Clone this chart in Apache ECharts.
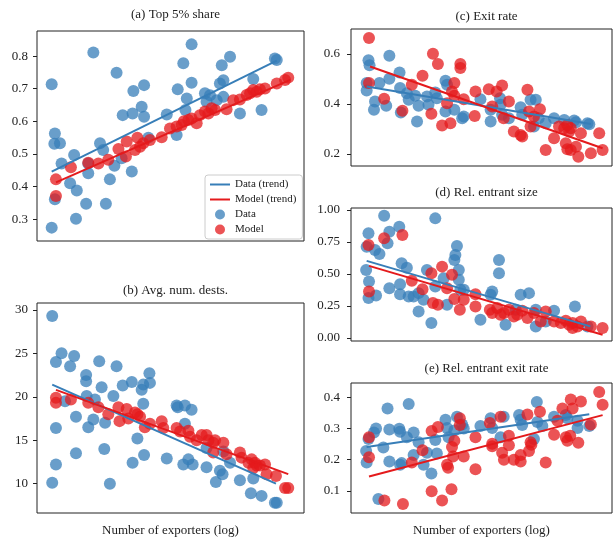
<!DOCTYPE html>
<html>
<head>
<meta charset="utf-8">
<script src="https://cdn.jsdelivr.net/npm/echarts@6/dist/echarts.min.js"></script>
<style>
  html, body { margin: 0; padding: 0; background: #fff; }
  #main { width: 616px; height: 538px; }
</style>
</head>
<body>
<div id="main"></div>
<script>
// x = position on the (log) number-of-exporters axis, 0..100 across each panel
// (a) Top 5% share
var aData = [[5.5,0.714],[6.7,0.563],[6.5,0.531],[8.6,0.533],[5.5,0.274],[6.7,0.361],[9.2,0.471],[21.1,0.811],[13.9,0.497],[12.4,0.41],[14.9,0.388],[14.6,0.301],[18.4,0.347],[19.2,0.441],[19.2,0.471],[23.6,0.533],[24.8,0.512],[25.8,0.347],[27.3,0.422],[29.0,0.464],[29.8,0.749],[31.7,0.487],[32.1,0.619],[35.5,0.446],[35.8,0.624],[36.1,0.693],[39.2,0.645],[40.1,0.711],[40.1,0.614],[41.7,0.55],[48.6,0.621],[52.3,0.558],[52.7,0.698],[54.8,0.778],[56.1,0.67],[55.6,0.635],[57.9,0.836],[57.9,0.718],[62.9,0.686],[63.5,0.66],[64.8,0.68],[68.5,0.716],[69.2,0.772],[69.8,0.726],[67.3,0.665],[69.8,0.675],[72.3,0.798],[76.0,0.624],[81.0,0.73],[84.1,0.635],[89.1,0.793],[89.8,0.788]];
var aModel = [[7.1,0.422],[7.1,0.371],[12.7,0.459],[19.2,0.473],[23.0,0.471],[26.7,0.482],[30.5,0.515],[33.6,0.538],[33.3,0.492],[36.7,0.512],[37.6,0.55],[38.6,0.522],[39.8,0.533],[42.3,0.543],[46.7,0.551],[49.8,0.578],[52.3,0.584],[54.2,0.589],[55.0,0.6],[56.7,0.604],[57.9,0.609],[59.8,0.594],[61.0,0.619],[62.9,0.63],[64.2,0.624],[65.4,0.64],[66.7,0.635],[71.0,0.637],[73.5,0.665],[76.0,0.667],[78.5,0.681],[79.8,0.686],[81.0,0.696],[82.3,0.691],[83.5,0.698],[85.4,0.701],[89.8,0.716],[92.9,0.727],[94.1,0.734]];
var aDataTrend = [[5.5,0.446],[89.8,0.786]];
var aModelTrend = [[7.1,0.413],[94.8,0.727]];
var aTicks = [0.3,0.4,0.5,0.6,0.7,0.8];

// (b) Avg. num. dests.
var bData = [[5.7,29.3],[5.7,10.1],[7.1,24.0],[7.1,12.2],[7.1,16.4],[9.2,25.0],[10.5,19.5],[12.4,23.5],[13.9,24.7],[14.6,17.7],[14.6,13.5],[18.4,22.5],[18.4,21.8],[18.6,20.1],[19.2,16.5],[21.7,19.7],[21.1,17.4],[23.3,24.1],[24.2,21.1],[25.5,17.0],[25.2,14.0],[27.3,10.0],[28.6,20.1],[29.8,23.5],[32.1,21.3],[35.5,21.7],[35.8,12.4],[37.6,15.2],[39.2,20.8],[39.8,21.4],[39.8,19.2],[40.1,13.3],[42.1,22.7],[42.3,21.6],[48.6,12.9],[52.3,19.0],[52.7,18.8],[55.4,19.0],[57.9,18.5],[55.4,16.9],[54.8,12.2],[56.7,12.8],[58.3,12.2],[63.5,11.9],[63.5,14.1],[67.0,10.2],[68.5,11.5],[69.5,11.1],[69.8,13.7],[72.3,12.4],[76.0,10.4],[80.1,8.9],[81.0,10.6],[84.1,8.6],[89.1,7.8],[89.8,7.8]];
var bModel = [[7.1,19.9],[7.1,19.3],[12.7,19.7],[19.2,19.3],[23.0,18.8],[26.7,18.0],[30.5,18.8],[30.9,17.2],[33.6,18.6],[34.2,17.5],[36.7,18.2],[37.6,18.0],[38.6,17.7],[40.4,16.5],[42.3,16.9],[46.7,17.2],[47.3,16.4],[52.3,16.4],[53.6,16.0],[56.7,16.1],[57.3,15.4],[59.8,15.0],[61.7,15.6],[63.5,15.6],[64.2,15.0],[66.0,14.7],[66.7,15.0],[66.0,13.6],[69.8,14.7],[71.0,13.4],[76.0,13.6],[76.6,13.0],[79.2,12.4],[80.4,12.8],[81.0,11.8],[81.6,12.4],[82.3,12.1],[83.5,12.1],[85.4,12.2],[86.0,11.1],[89.5,10.9],[92.9,9.5],[94.1,9.5]];
var bDataTrend = [[5.7,21.4],[89.5,10.0]];
var bModelTrend = [[7.1,20.8],[94.1,11.1]];
var bTicks = [10,15,20,25,30];

// (c) Exit rate
var cData = [[6.0,0.484],[6.0,0.454],[6.7,0.575],[7.1,0.555],[8.8,0.377],[9.2,0.41],[10.9,0.484],[13.5,0.393],[14.7,0.501],[14.7,0.593],[18.6,0.526],[18.8,0.464],[19.1,0.366],[21.4,0.443],[22.1,0.417],[24.6,0.433],[25.3,0.33],[25.9,0.393],[29.1,0.43],[29.7,0.397],[32.3,0.446],[32.9,0.423],[36.2,0.493],[36.2,0.37],[36.8,0.477],[39.6,0.377],[43.2,0.35],[42.6,0.343],[49.6,0.419],[53.5,0.377],[53.5,0.33],[57.1,0.423],[57.3,0.397],[57.9,0.357],[60.5,0.343],[65.0,0.387],[65.6,0.357],[68.8,0.417],[70.8,0.417],[70.1,0.31],[71.9,0.343],[74.6,0.323],[77.8,0.343],[81.7,0.336],[85.5,0.334],[86.2,0.327],[90.6,0.323],[91.3,0.319]];
var cModel = [[6.9,0.664],[6.9,0.484],[12.7,0.421],[19.7,0.373],[23.3,0.477],[27.4,0.513],[30.8,0.361],[31.4,0.601],[33.3,0.56],[34.9,0.314],[36.8,0.403],[38.1,0.323],[38.7,0.45],[39.6,0.484],[39.6,0.433],[41.9,0.56],[41.9,0.544],[43.2,0.419],[47.4,0.352],[47.7,0.45],[52.8,0.459],[54.1,0.39],[55.8,0.45],[57.9,0.474],[58.5,0.343],[60.5,0.41],[62.4,0.29],[65.0,0.276],[65.6,0.27],[67.6,0.457],[68.2,0.37],[68.8,0.31],[70.1,0.35],[72.4,0.379],[74.6,0.216],[77.8,0.263],[79.7,0.31],[81.7,0.303],[82.9,0.316],[83.6,0.29],[82.3,0.243],[82.9,0.219],[84.2,0.216],[84.2,0.303],[86.2,0.229],[87.1,0.189],[88.1,0.283],[91.9,0.203],[95.1,0.283],[96.4,0.216]];
var cDataTrend = [[6.0,0.47],[91.9,0.32]];
var cModelTrend = [[7.3,0.55],[96.4,0.223]];
var cTicks = [0.2,0.4,0.6];

// (d) Rel. entrant size
var dData = [[5.8,0.532],[6.0,0.714],[6.7,0.818],[6.9,0.442],[6.7,0.312],[9.2,0.688],[9.6,0.332],[10.9,0.657],[12.7,0.956],[14.0,0.74],[14.7,0.831],[14.7,0.39],[18.5,0.87],[18.8,0.42],[18.8,0.343],[19.4,0.584],[21.4,0.55],[22.1,0.325],[24.0,0.325],[25.9,0.351],[25.9,0.208],[27.8,0.299],[29.1,0.532],[30.8,0.117],[32.3,0.935],[32.3,0.403],[35.5,0.468],[36.8,0.26],[39.6,0.61],[40.6,0.719],[40.0,0.649],[41.3,0.532],[41.3,0.455],[41.9,0.377],[43.2,0.377],[49.6,0.143],[53.5,0.338],[54.1,0.364],[56.7,0.61],[56.7,0.506],[59.2,0.104],[63.1,0.221],[65.0,0.338],[68.2,0.351],[70.8,0.221],[70.8,0.091],[74.6,0.13],[77.8,0.213],[85.8,0.247],[90.6,0.091]];
var dModel = [[6.7,0.727],[6.9,0.364],[12.7,0.779],[19.7,0.805],[23.3,0.447],[27.4,0.382],[30.8,0.506],[31.4,0.273],[33.3,0.26],[34.9,0.558],[36.8,0.39],[38.7,0.494],[39.6,0.306],[41.7,0.221],[43.2,0.299],[47.7,0.247],[47.7,0.343],[53.2,0.221],[54.1,0.195],[56.0,0.234],[57.3,0.182],[58.6,0.195],[60.5,0.221],[62.4,0.169],[63.7,0.182],[65.6,0.213],[67.6,0.156],[70.1,0.195],[72.7,0.13],[74.6,0.208],[77.8,0.13],[80.4,0.117],[82.3,0.135],[83.6,0.104],[84.9,0.117],[84.9,0.078],[86.8,0.091],[88.1,0.13],[91.9,0.091],[96.4,0.078]];
var dDataTrend = [[6.0,0.603],[91.7,0.091]];
var dModelTrend = [[6.9,0.564],[96.4,0.026]];
var dTicks = [0,0.25,0.5,0.75,1];

// (e) Rel. entrant exit rate
var eData = [[5.8,0.228],[6.0,0.191],[6.7,0.266],[8.8,0.287],[9.6,0.3],[10.5,0.074],[12.4,0.239],[14.0,0.364],[14.7,0.194],[14.7,0.297],[18.5,0.299],[18.8,0.29],[18.8,0.184],[19.4,0.189],[21.4,0.272],[22.1,0.379],[24.0,0.287],[24.0,0.215],[25.9,0.256],[27.8,0.184],[29.1,0.222],[30.8,0.156],[32.3,0.263],[32.9,0.22],[36.2,0.328],[36.8,0.302],[37.4,0.272],[39.6,0.294],[40.6,0.338],[43.2,0.3],[42.6,0.313],[49.6,0.308],[53.5,0.333],[54.1,0.302],[57.3,0.272],[58.5,0.338],[64.4,0.343],[65.0,0.328],[65.6,0.311],[70.1,0.266],[71.2,0.385],[71.4,0.321],[73.3,0.308],[77.8,0.338],[82.3,0.343],[82.9,0.333],[86.8,0.302],[86.8,0.325],[91.3,0.308]];
var eModel = [[6.9,0.272],[6.9,0.208],[12.8,0.069],[19.9,0.058],[23.3,0.191],[27.4,0.23],[30.9,0.292],[30.9,0.099],[33.3,0.305],[34.9,0.069],[36.8,0.184],[37.2,0.174],[38.5,0.105],[38.7,0.241],[39.6,0.261],[39.1,0.21],[41.7,0.333],[41.7,0.311],[43.2,0.21],[47.7,0.169],[47.7,0.272],[53.2,0.318],[54.1,0.243],[54.1,0.251],[57.3,0.338],[57.9,0.222],[58.6,0.2],[60.5,0.277],[60.5,0.246],[62.4,0.2],[65.0,0.194],[65.0,0.215],[67.6,0.345],[68.2,0.228],[68.8,0.256],[69.1,0.248],[72.4,0.354],[74.6,0.191],[77.8,0.28],[79.1,0.325],[81.0,0.364],[82.3,0.272],[82.9,0.261],[84.0,0.277],[84.2,0.393],[84.9,0.364],[87.1,0.254],[88.1,0.387],[91.9,0.313],[95.1,0.417],[96.4,0.376]];
var eDataTrend = [[6.0,0.241],[91.3,0.346]];
var eModelTrend = [[6.9,0.146],[96.4,0.343]];
var eTicks = [0.1,0.2,0.3,0.4];

var BLUE = '#377eb8', RED = '#e41a1c';
var FONT = 'Liberation Serif';

(function() {
    var chart = echarts.init(document.getElementById('main'));

    var panels = [
        { box: [37, 31, 267, 210], y: [0.233, 0.877], ticks: aTicks, dec: 1, title: '(a) Top 5% share', ty: 3, margin: 9,
          data: aData, model: aModel, dt: aDataTrend, mt: aModelTrend, xname: false },
        { box: [37, 303, 267, 215], y: [6.63, 30.79], ticks: bTicks, dec: 0, title: '(b) Avg. num. dests.', ty: 279, margin: 9,
          data: bData, model: bModel, dt: bDataTrend, mt: bModelTrend, xname: true },
        { box: [351, 29, 261, 137], y: [0.152, 0.70], ticks: cTicks, dec: 1, title: '(c) Exit rate', ty: 5, margin: 11,
          data: cData, model: cModel, dt: cDataTrend, mt: cModelTrend, xname: false },
        { box: [351, 208, 261, 133], y: [-0.023, 1.016], ticks: dTicks, dec: 2, title: '(d) Rel. entrant size', ty: 181, margin: 11,
          data: dData, model: dModel, dt: dDataTrend, mt: dModelTrend, xname: false },
        { box: [351, 383, 261, 136], y: [0.029, 0.446], ticks: eTicks, dec: 1, title: '(e) Rel. entrant exit rate', ty: 357, margin: 11,
          data: eData, model: eModel, dt: eDataTrend, mt: eModelTrend, xname: true }
    ];

    var grids = [], xAxes = [], yAxes = [], titles = [], series = [];
    panels.forEach(function(p, i) {
        grids.push({
            left: p.box[0], top: p.box[1], width: p.box[2], height: p.box[3],
            show: true, borderColor: '#222', borderWidth: 1, backgroundColor: '#fff'
        });
        xAxes.push({
            gridIndex: i, type: 'value', min: 0, max: 100,
            axisLine: { show: false }, axisTick: { show: false },
            axisLabel: { show: false }, splitLine: { show: false },
            name: p.xname ? 'Number of exporters (log)' : '',
            nameLocation: 'middle', nameGap: 11,
            nameTextStyle: { fontFamily: FONT, fontSize: 13, color: '#222' }
        });
        yAxes.push({
            gridIndex: i, type: 'value', min: p.y[0], max: p.y[1],
            axisLine: { show: false }, splitLine: { show: false },
            axisTick: { show: true, length: 4, customValues: p.ticks, lineStyle: { color: '#222', width: 1 } },
            axisLabel: {
                customValues: p.ticks, margin: p.margin, color: '#222',
                fontFamily: FONT, fontSize: 13,
                formatter: (function(dec) { return function(v) { return v.toFixed(dec); }; })(p.dec)
            }
        });
        titles.push({
            text: p.title, left: p.box[0] + p.box[2] / 2, top: p.ty, textAlign: 'center',
            textStyle: { fontFamily: FONT, fontSize: 13, fontWeight: 'normal', color: '#222' }
        });
        series.push({
            name: 'Data', type: 'scatter', xAxisIndex: i, yAxisIndex: i, data: p.data,
            symbolSize: 12, itemStyle: { color: BLUE, opacity: 0.75 }, z: 2
        }, {
            name: 'Model', type: 'scatter', xAxisIndex: i, yAxisIndex: i, data: p.model,
            symbolSize: 12, itemStyle: { color: RED, opacity: 0.75 }, z: 3
        }, {
            name: 'Data (trend)', type: 'line', xAxisIndex: i, yAxisIndex: i, data: p.dt,
            symbol: 'none', lineStyle: { color: BLUE, width: 2 }, itemStyle: { color: BLUE }, z: 4
        }, {
            name: 'Model (trend)', type: 'line', xAxisIndex: i, yAxisIndex: i, data: p.mt,
            symbol: 'none', lineStyle: { color: RED, width: 2 }, itemStyle: { color: RED }, z: 5
        });
    });

    var option = {
        animation: false,
        title: titles,
        legend: {
            data: [
                { name: 'Data (trend)', itemStyle: { opacity: 0 } },
                { name: 'Model (trend)', itemStyle: { opacity: 0 } },
                'Data', 'Model'
            ],
            orient: 'vertical', left: 205, top: 175,
            itemWidth: 20, itemHeight: 10, itemGap: 4,
            padding: [4, 6, 4, 4],
            borderColor: '#ccc', borderWidth: 1, borderRadius: 3,
            backgroundColor: 'rgba(255,255,255,0.85)',
            textStyle: { fontFamily: FONT, fontSize: 11, color: '#222' }
        },
        grid: grids,
        xAxis: xAxes,
        yAxis: yAxes,
        series: series
    };
    chart.setOption(option);
})();
</script>
</body>
</html>
